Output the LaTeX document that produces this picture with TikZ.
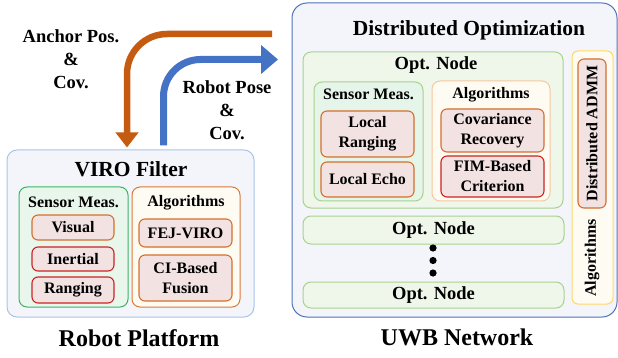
\documentclass[tikz,border=0pt]{standalone}
\usepackage{fontspec}
\setmainfont{Liberation Serif}
\usetikzlibrary{arrows.meta,calc}
\definecolor{outerfill}{HTML}{F4F5FA}
\definecolor{viroborder}{HTML}{A9C3EA}
\definecolor{uwbborder}{HTML}{4F73B8}
\definecolor{greenborder}{HTML}{3DB464}
\definecolor{greenfill}{HTML}{E8F6EC}
\definecolor{orborder}{HTML}{D9793A}
\definecolor{yelfill}{HTML}{FEFBF2}
\definecolor{smallfill}{HTML}{F3E2E2}
\definecolor{smallor}{HTML}{D46F2C}
\definecolor{smallred}{HTML}{CC2222}
\definecolor{optborder}{HTML}{A9D18E}
\definecolor{optfill}{HTML}{EFF7EB}
\definecolor{optin}{HTML}{E6F5EA}
\definecolor{lightor}{HTML}{F7C79D}
\definecolor{yelborder}{HTML}{FFD966}
\definecolor{arrorange}{HTML}{C55A11}
\definecolor{arrblue}{HTML}{4472C4}
\newcommand{\fsmall}{\fontsize{16}{20}\selectfont\bfseries}
\newcommand{\fmid}{\fontsize{18.5}{23}\selectfont\bfseries}
\newcommand{\ftitle}{\fontsize{21.5}{25}\selectfont\bfseries}
\newcommand{\fbig}{\fontsize{24}{28}\selectfont\bfseries}
\tikzset{
  pbox/.style={draw, rounded corners=#1, inner sep=0pt, align=center},
  pbox/.default=6pt,
  smallor/.style={pbox, draw=smallor, fill=smallfill, line width=1.1pt, font=\fsmall},
  smallred/.style={pbox, draw=smallred, fill=smallfill, line width=1.1pt, font=\fsmall},
  lbl/.style={inner sep=0pt, align=center},
  sz/.style 2 args={minimum width=#1pt, minimum height=#2pt},
}
\begin{document}
\begin{tikzpicture}[x=1pt,y=-1pt]
\useasboundingbox (0,0) rectangle (618,358);
% left platform
\node[pbox=10pt, draw=viroborder, fill=outerfill, line width=1pt, sz={247}{167}] (viro) at (130.5,233.5) {};
\node[lbl, font=\ftitle] (virot) at (131,169) {VIRO Filter};
\node[pbox=8pt, draw=greenborder, fill=greenfill, line width=1pt, sz={109}{120}] (sens) at (73.5,247) {};
\node[lbl, font=\fsmall] (senst) at (73.5,202) {Sensor Meas.};
\node[smallor, sz={82}{25}] (visual) at (73,227.5) {Visual};
\node[smallred, sz={82}{24}] (inertial) at (73,259) {Inertial};
\node[smallred, sz={82}{26}] (ranging) at (73,290) {Ranging};
\node[pbox=8pt, draw=orborder, fill=yelfill, line width=1pt, sz={108}{120}] (alg) at (186,247) {};
\node[lbl, font=\fsmall] (algt) at (186,203) {Algorithms};
\node[smallor, sz={93}{28}] (fej) at (185.5,233) {FEJ-VIRO};
\node[smallor, sz={93}{46}] (ci) at (185.5,278) {CI-Based\\Fusion};
\node[lbl, font=\fbig] (robot) at (139,338) {Robot Platform};
% right network
\node[pbox=15pt, draw=uwbborder, fill=outerfill, line width=1pt, sz={325}{314}] (uwb) at (454.5,160) {};
\node[lbl, font=\ftitle] (dist) at (469,30) {Distributed Optimization};
\node[pbox=8pt, draw=optborder, fill=optfill, line width=1pt, sz={260}{156}] (opt1) at (433,130) {};
\node[lbl, font=\fmid] (opt1t) at (436,65) {Opt. Node};
\node[pbox=8pt, draw=optborder, fill=optin, line width=1pt, sz={109}{119}] (osens) at (368.5,141.5) {};
\node[lbl, font=\fsmall] (osenst) at (368.5,94) {Sensor Meas.};
\node[smallor, sz={93}{46}] (lrang) at (367.5,134) {Local\\Ranging};
\node[smallor, sz={93}{35}] (lecho) at (367.5,179.5) {Local Echo};
\node[pbox=8pt, draw=lightor, fill=yelfill, line width=1pt, sz={118}{120}] (oalg) at (491,141) {};
\node[lbl, font=\fsmall] (oalgt) at (491,95) {Algorithms};
\node[smallor, sz={103}{43}] (cov) at (492.5,130.5) {Covariance\\Recovery};
\node[smallred, sz={103}{41}] (fim) at (492.5,176.5) {FIM-Based\\Criterion};
\node[pbox=6pt, draw=yelborder, fill=yelfill, line width=1pt, sz={41}{253}] (valg) at (592.5,177.5) {};
\node[smallor, sz={149}{28}, rotate=90] (admm) at (592,133.5) {Distributed ADMM};
\node[lbl, font=\fsmall, rotate=90] (valgt) at (592,258) {Algorithms};
\node[pbox=8pt, draw=optborder, fill=optfill, line width=1pt, sz={261}{28}, font=\fmid] (opt2) at (433.5,230) {Opt. Node};
\node[pbox=8pt, draw=optborder, fill=optfill, line width=1pt, sz={261}{26}, font=\fmid] (opt3) at (433.5,295) {Opt. Node};
\fill (433,248) circle (3.6) (433,260.5) circle (3.6) (433,273) circle (3.6);
\node[lbl, font=\fbig] (uwbt) at (457,337) {UWB Network};
% arrows
\coordinate (oa) at (272,34);
\coordinate (ba) at (278,59.5);
\draw[arrorange, line width=6.5pt, rounded corners=40pt, -{Triangle[length=15pt,width=22pt]}] (oa) -| ([xshift=-3.5pt,yshift=2pt]viro.north);
\draw[arrblue, line width=7pt, rounded corners=37pt, -{Triangle[length=17pt,width=28pt]}] ([xshift=33pt,yshift=4pt]viro.north) |- (ba);
\node[lbl, font=\fmid, align=center] (anchorlbl) at (71,59) {Anchor Pos.\\\&\\Cov.};
\node[lbl, font=\fmid, align=center] (robotlbl) at (227,110.5) {Robot Pose\\\&\\Cov.};
\end{tikzpicture}
\end{document}
